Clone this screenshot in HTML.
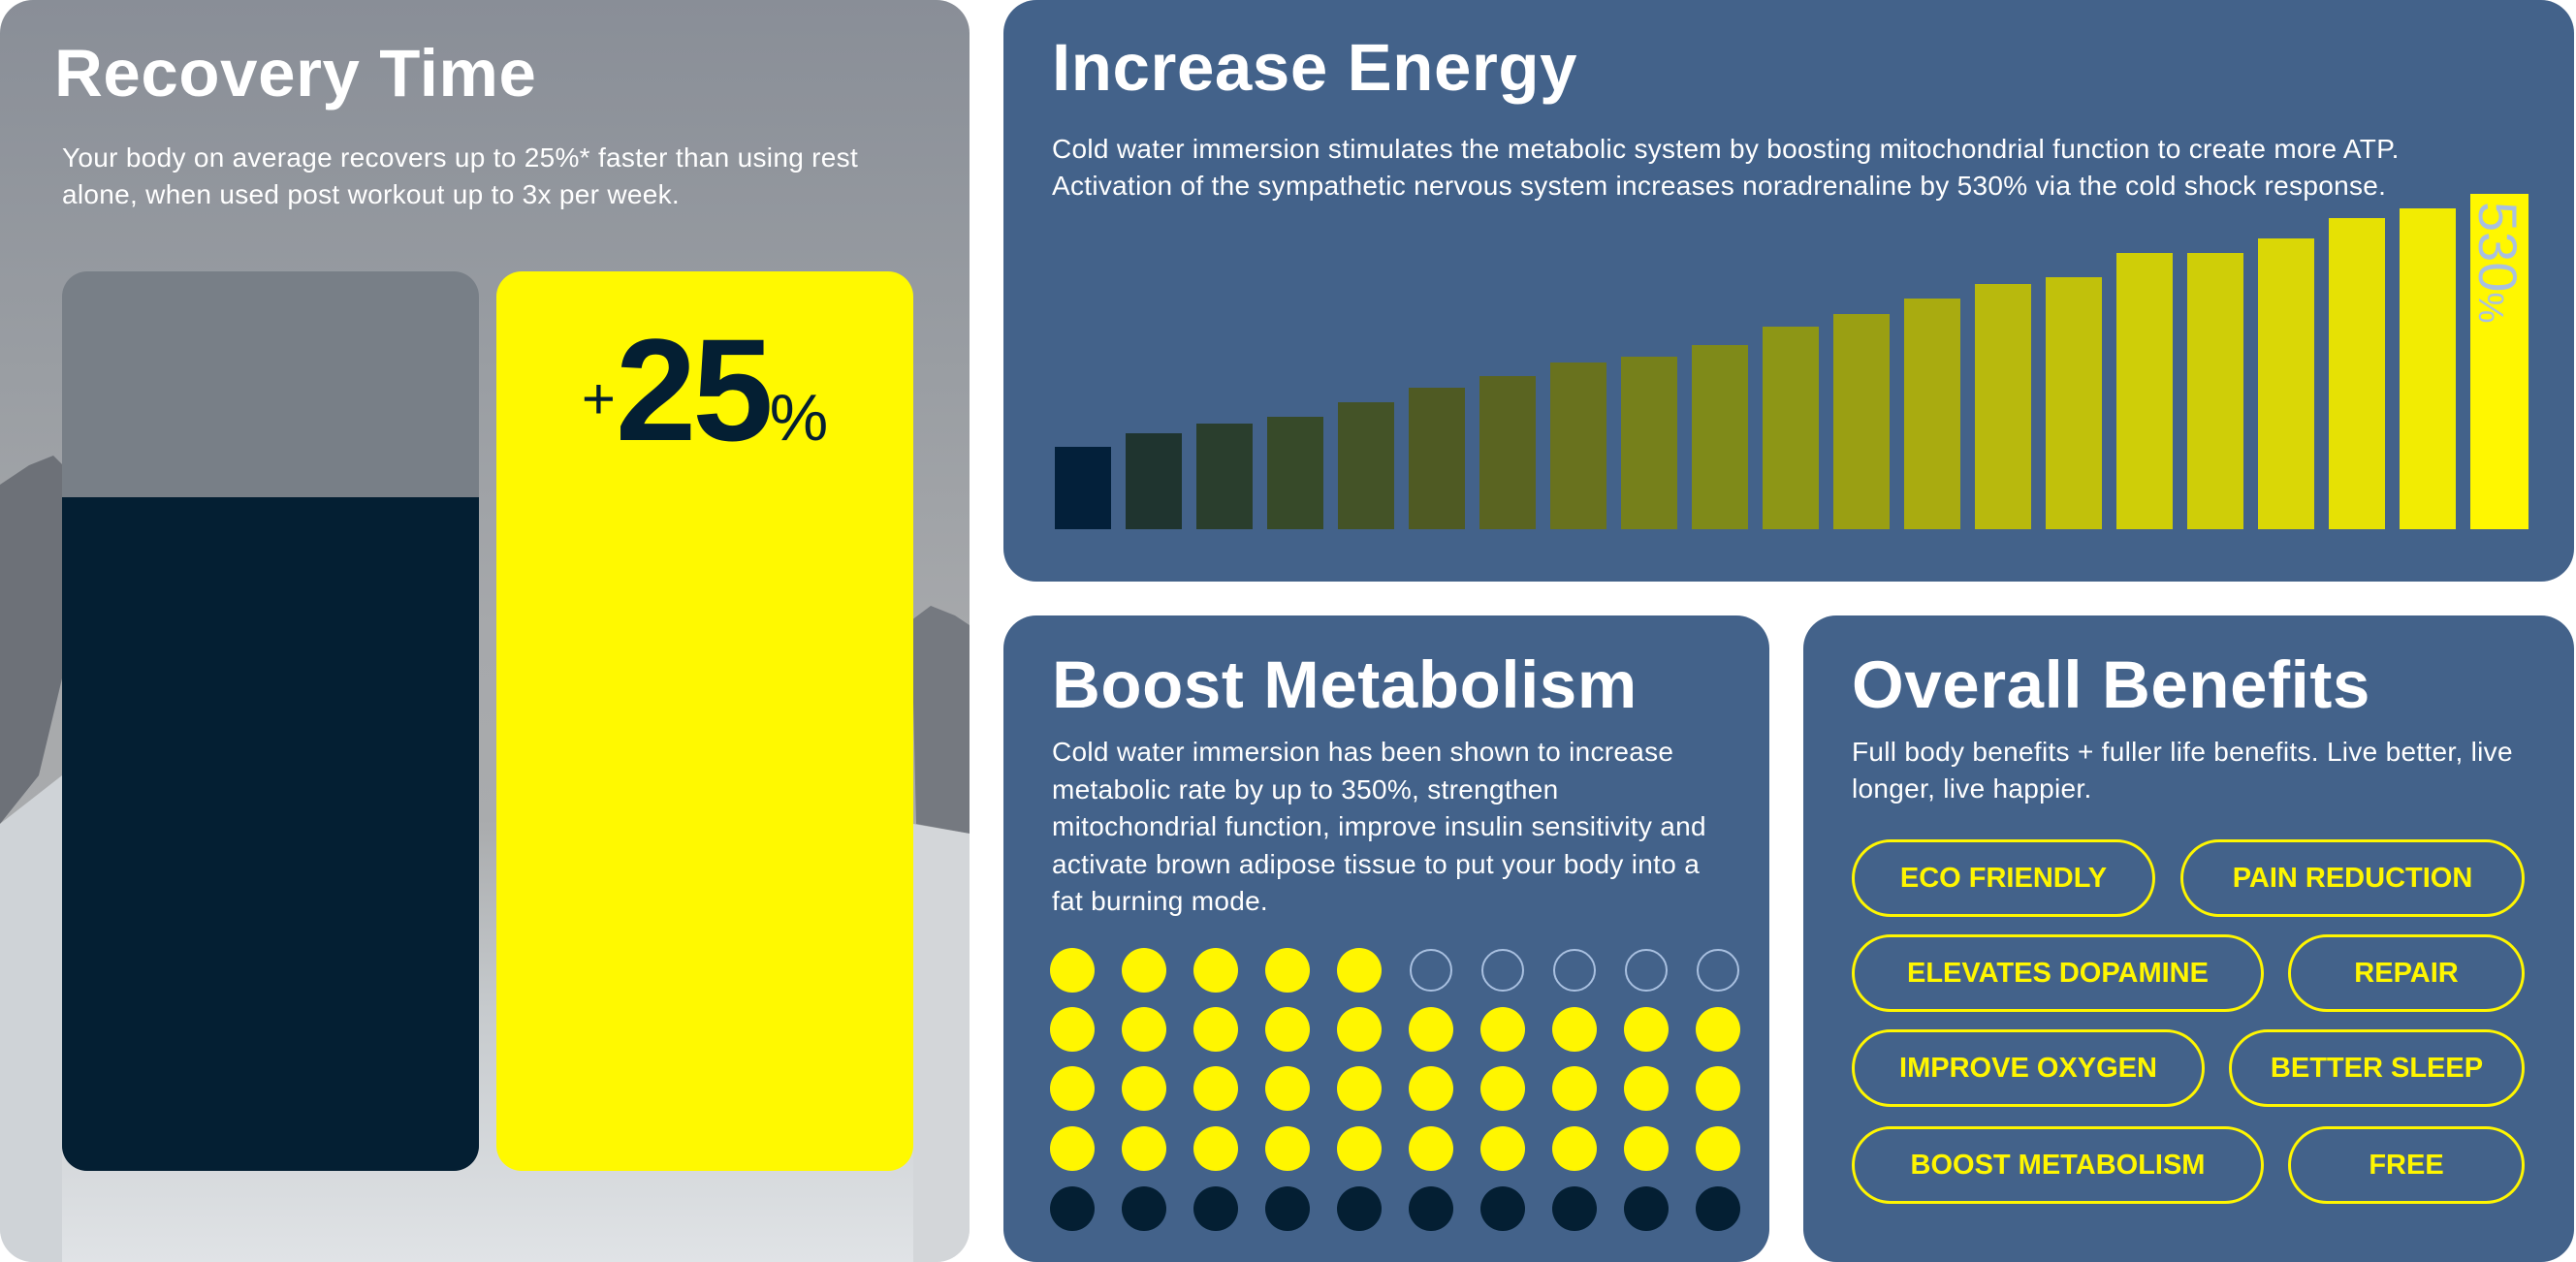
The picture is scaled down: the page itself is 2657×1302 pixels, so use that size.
<!DOCTYPE html>
<html><head><meta charset="utf-8"><style>
*{margin:0;padding:0;box-sizing:border-box}
body{width:2657px;height:1302px;background:#fff;position:relative;overflow:hidden;font-family:"Liberation Sans",sans-serif}
.a{position:absolute}
.card{position:absolute;border-radius:34px;overflow:hidden}
.blue{background:#43628a}
h1{position:absolute;color:#fff;font-weight:bold;font-size:69px;letter-spacing:0.6px;white-space:nowrap}
.p{position:absolute;color:#fff;font-size:28px;letter-spacing:0.3px;line-height:38px;white-space:nowrap}
.pill{position:absolute;border:3px solid #fff600;border-radius:40px;color:#fff600;font-weight:bold;font-size:29px;display:flex;align-items:center;justify-content:center;height:80px}
</style></head><body>

<div class="card" style="left:0;top:0;width:1000px;height:1302px;background:linear-gradient(180deg,#898e97 0%,#9a9ea3 30%,#a6a8ab 50%,#a9abad 65%,#c6cacd 80%,#e0e3e6 100%)">
<svg class="a" style="left:0;top:0" width="1000" height="1302">
<polygon points="0,500 30,480 55,470 75,490 100,478 64,700 40,800 0,850" fill="#6d7178"/>
<polygon points="940,640 960,625 985,635 1000,645 1000,860 945,850" fill="#757980"/>
<polygon points="0,850 64,800 64,1302 0,1302" fill="#cfd3d7"/>
<polygon points="942,850 1000,860 1000,1302 942,1302" fill="#d3d6d9"/>
</svg>
<h1 style="left:56px;top:36px">Recovery Time</h1>
<div class="p" style="left:64px;top:144px">Your body on average recovers up to 25%* faster than using rest<br>alone, when used post workout up to 3x per week.</div>
<div class="a" style="left:64px;top:280px;width:430px;height:928px;border-radius:26px;overflow:hidden;background:#787f87">
<div class="a" style="left:0;top:233px;width:430px;height:695px;background:#041f33"></div></div>
<div class="a" style="left:512px;top:280px;width:430px;height:928px;border-radius:26px;background:#fff900"></div>
<div class="a" style="left:572px;top:316px;width:310px;text-align:center;color:#041f33;font-weight:bold;white-space:nowrap">
<span style="font-size:60px;font-weight:normal;vertical-align:22px">+</span><span style="font-size:150px;letter-spacing:-4px">25</span><span style="font-size:68px;font-weight:normal">%</span></div>
</div>

<div class="card blue" style="left:1035px;top:0;width:1620px;height:600px">
<h1 style="left:50px;top:30px">Increase Energy</h1>
<div class="p" style="left:50px;top:135px">Cold water immersion stimulates the metabolic system by boosting mitochondrial function to create more ATP.<br>Activation of the sympathetic nervous system increases noradrenaline by 530% via the cold shock response.</div>
</div>
<svg class="a" style="left:0;top:0" width="2657" height="600">
<g>
<rect x="1088" y="461" width="58" height="85" fill="#03203a"/>
<rect x="1161" y="447" width="58" height="99" fill="#1f342f"/>
<rect x="1234" y="437" width="58" height="109" fill="#2a3e2d"/>
<rect x="1307" y="430" width="58" height="116" fill="#374a29"/>
<rect x="1380" y="415" width="58" height="131" fill="#445327"/>
<rect x="1453" y="400" width="58" height="146" fill="#4f5a23"/>
<rect x="1526" y="388" width="58" height="158" fill="#5a6421"/>
<rect x="1599" y="374" width="58" height="172" fill="#69721e"/>
<rect x="1672" y="368" width="58" height="178" fill="#76801b"/>
<rect x="1745" y="356" width="58" height="190" fill="#7f8a19"/>
<rect x="1818" y="337" width="58" height="209" fill="#8d9616"/>
<rect x="1891" y="324" width="58" height="222" fill="#9a9f13"/>
<rect x="1964" y="308" width="58" height="238" fill="#a9ab10"/>
<rect x="2037" y="293" width="58" height="253" fill="#b8b90d"/>
<rect x="2110" y="286" width="58" height="260" fill="#c1c10b"/>
<rect x="2183" y="261" width="58" height="285" fill="#cfce08"/>
<rect x="2256" y="261" width="58" height="285" fill="#cfce08"/>
<rect x="2329" y="246" width="58" height="300" fill="#dad706"/>
<rect x="2402" y="225" width="58" height="321" fill="#e6e104"/>
<rect x="2475" y="215" width="58" height="331" fill="#f2ec02"/>
<rect x="2548" y="200" width="60" height="346" fill="#fff700"/>
</g>
<text transform="translate(2557,208) rotate(90)" fill="#a9c0e0" font-family="Liberation Sans" font-size="56"><tspan>530</tspan><tspan font-size="36">%</tspan></text>
</svg>

<div class="card blue" style="left:1035px;top:635px;width:790px;height:667px">
<h1 style="left:50px;top:32px">Boost Metabolism</h1>
<div class="p" style="left:50px;top:122px;line-height:38.5px">Cold water immersion has been shown to increase<br>metabolic rate by up to 350%, strengthen<br>mitochondrial function, improve insulin sensitivity and<br>activate brown adipose tissue to put your body into a<br>fat burning mode.</div>
</div>

<div class="card blue" style="left:1860px;top:635px;width:795px;height:667px">
<h1 style="left:50px;top:32px">Overall Benefits</h1>
<div class="p" style="left:50px;top:122px">Full body benefits + fuller life benefits. Live better, live<br>longer, live happier.</div>
</div>
<div class="pill" style="left:1910px;top:866px;width:313px">ECO FRIENDLY</div>
<div class="pill" style="left:2249px;top:866px;width:355px">PAIN REDUCTION</div>
<div class="pill" style="left:1910px;top:964px;width:425px">ELEVATES DOPAMINE</div>
<div class="pill" style="left:2360px;top:964px;width:244px">REPAIR</div>
<div class="pill" style="left:1910px;top:1062px;width:364px">IMPROVE OXYGEN</div>
<div class="pill" style="left:2299px;top:1062px;width:305px">BETTER SLEEP</div>
<div class="pill" style="left:1910px;top:1162px;width:425px">BOOST METABOLISM</div>
<div class="pill" style="left:2360px;top:1162px;width:244px">FREE</div>

<svg class="a" style="left:0;top:0" width="2657" height="1302">
<g id="g"></g>
</svg>
<script>
var g=document.getElementById('g'),ys=[1001,1062,1123,1185,1247],s='';
for(var r=0;r<5;r++)for(var c=0;c<10;c++){var x=1106+c*74,y=ys[r];
if(r==0&&c>=5)s+='<circle cx="'+x+'" cy="'+y+'" r="21" fill="none" stroke="#a9c0e0" stroke-width="2"/>';
else s+='<circle cx="'+x+'" cy="'+y+'" r="23" fill="'+(r==4?'#041f33':'#fff600')+'"/>';}
g.innerHTML=s;
</script>
</body></html>
